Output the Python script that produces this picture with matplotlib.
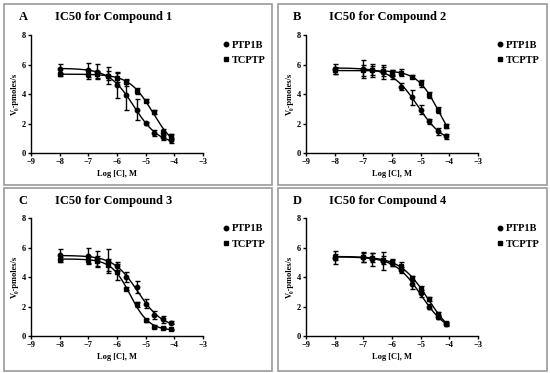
import numpy as np
import matplotlib
matplotlib.use('Agg')
import matplotlib.pyplot as plt
from matplotlib.patches import Rectangle
from matplotlib.lines import Line2D

# log concentration of the inhibitor (M)
conc = [-8, -7, -6.7, -6.3, -6, -5.7, -5.3, -5, -4.7, -4.4, -4.1]
series = ['PTP1B', 'TCPTP']
letters = ['A', 'B', 'C', 'D']
titles = ['IC50 for Compound 1', 'IC50 for Compound 2', 'IC50 for Compound 3', 'IC50 for Compound 4']

# mean V0 values (pmoles/s) and error bars
ptp1b_1 = [5.68, 5.63, 5.52, 5.25, 4.6, 3.94, 2.93, 2.03, 1.35, 1.06, 0.86]
ptp1b_1_err = [0.35, 0.45, 0.5, 0.6, 0.9, 1.0, 0.7, 0.1, 0.2, 0.2, 0.15]
tcptp_1 = [5.34, 5.34, 5.34, 5.25, 5.1, 4.8, 4.23, 3.54, 2.77, 1.42, 1.13]
tcptp_1_err = [0.1, 0.3, 0.25, 0.3, 0.3, 0.25, 0.2, 0.1, 0.15, 0.2, 0.15]

ptp1b_2 = [5.7, 5.7, 5.6, 5.5, 5.3, 4.5, 3.78, 2.93, 2.14, 1.46, 1.13]
ptp1b_2_err = [0.35, 0.6, 0.45, 0.45, 0.3, 0.25, 0.5, 0.3, 0.15, 0.25, 0.15]
tcptp_2 = [5.6, 5.6, 5.6, 5.55, 5.45, 5.45, 5.18, 4.73, 3.94, 2.93, 1.85]
tcptp_2_err = [0.25, 0.35, 0.3, 0.3, 0.2, 0.25, 0.1, 0.25, 0.2, 0.2, 0.15]

ptp1b_3 = [5.52, 5.4, 5.22, 5.07, 4.73, 4.0, 3.31, 2.2, 1.42, 1.13, 0.9]
ptp1b_3_err = [0.35, 0.55, 0.55, 0.8, 0.3, 0.35, 0.4, 0.3, 0.3, 0.25, 0.1]
tcptp_3 = [5.18, 5.18, 5.07, 4.84, 4.32, 3.2, 2.14, 1.08, 0.63, 0.56, 0.45]
tcptp_3_err = [0.15, 0.25, 0.35, 0.4, 0.55, 0.1, 0.15, 0.1, 0.1, 0.05, 0.05]

ptp1b_4 = [5.3, 5.35, 5.2, 5.1, 4.95, 4.45, 3.5, 2.9, 2.0, 1.3, 0.8]
ptp1b_4_err = [0.45, 0.35, 0.45, 0.6, 0.2, 0.2, 0.3, 0.25, 0.2, 0.15, 0.1]
tcptp_4 = [5.35, 5.35, 5.3, 5.15, 5.0, 4.75, 3.9, 3.2, 2.5, 1.5, 0.85]
tcptp_4_err = [0.2, 0.3, 0.3, 0.3, 0.25, 0.25, 0.15, 0.2, 0.15, 0.15, 0.1]

panels = [
    [(ptp1b_1, ptp1b_1_err), (tcptp_1, tcptp_1_err)],
    [(ptp1b_2, ptp1b_2_err), (tcptp_2, tcptp_2_err)],
    [(ptp1b_3, ptp1b_3_err), (tcptp_3, tcptp_3_err)],
    [(ptp1b_4, ptp1b_4_err), (tcptp_4, tcptp_4_err)],
]


# 4-parameter logistic fit: grid over logIC50 and hill, linear solve for bottom/top
def fit_sigmoid(x, y):
    x = np.asarray(x, float)
    y = np.asarray(y, float)
    c = np.arange(-7.5, -3.0, 0.01)[:, None, None]
    h = np.arange(0.3, 4.0, 0.02)[None, :, None]
    s = 1.0 / (1.0 + 10 ** ((x[None, None, :] - c) * h))
    u = 1 - s
    a11 = (u * u).sum(-1)
    a12 = (u * s).sum(-1)
    a22 = (s * s).sum(-1)
    b1 = (u * y).sum(-1)
    b2 = (s * y).sum(-1)
    det = a11 * a22 - a12 ** 2
    det[det == 0] = 1e-12
    bot = (a22 * b1 - a12 * b2) / det
    top = (a11 * b2 - a12 * b1) / det
    pred = bot[..., None] * u + top[..., None] * s
    sse = ((pred - y) ** 2).sum(-1)
    i, j = np.unravel_index(np.argmin(sse), sse.shape)
    cc, hh, bb, tt = c[i, 0, 0], h[0, j, 0], bot[i, j], top[i, j]
    return lambda xx: bb + (tt - bb) / (1 + 10 ** ((xx - cc) * hh))


plt.rcParams['font.family'] = ['Liberation Serif', 'DejaVu Serif']
plt.rcParams['font.weight'] = 'bold'

W, H = 550, 373
fig = plt.figure(figsize=(5.5, 3.73), dpi=100)

# panel boxes (pixels): x0, y0 (top), x1, y1 (bottom)
boxes = [(4, 4, 272, 185), (278, 4, 547, 185), (4, 188, 272, 371), (278, 188, 547, 371)]
# axes rectangles (pixels): left, top, right, bottom
axrects = [(31, 35, 203, 153), (306, 35, 478, 153), (31, 218, 203, 336), (306, 218, 478, 336)]

markers = ['o', 's']
msizes = [3.2, 3.0]
xs = np.linspace(-8, -4.1, 200)

for k in range(4):
    bx0, by0, bx1, by1 = boxes[k]
    fig.patches.append(Rectangle((bx0 / W, 1 - by1 / H), (bx1 - bx0) / W, (by1 - by0) / H,
                                 transform=fig.transFigure, fill=False,
                                 edgecolor='#9a9a9a', linewidth=1.2))
    l, t, r, b = axrects[k]
    ax = fig.add_axes([l / W, 1 - b / H, (r - l) / W, (b - t) / H])
    for m, ms, (vals, errs) in zip(markers, msizes, panels[k]):
        ax.errorbar(conc, vals, yerr=errs, fmt=m, color='black', markersize=ms,
                    elinewidth=1, capsize=1.8, capthick=1, zorder=3)
        f = fit_sigmoid(conc, vals)
        ax.plot(xs, f(xs), color='black', linewidth=1)
    ax.set_xlim(-9, -3)
    ax.set_ylim(0, 8)
    ax.set_xticks([-9, -8, -7, -6, -5, -4, -3])
    ax.set_yticks([0, 2, 4, 6, 8])
    ax.tick_params(labelsize=6, length=2.5, width=1, pad=1)
    for sp in ['top', 'right']:
        ax.spines[sp].set_visible(False)
    for sp in ['left', 'bottom']:
        ax.spines[sp].set_linewidth(1)
    ax.set_xlabel('Log [C], M', fontsize=6, fontweight='bold', labelpad=3)
    ax.set_ylabel('V\u2080-pmoles/s', fontsize=6, fontweight='bold', labelpad=2)
    ax.patch.set_alpha(0)

    # panel letter and title
    fig.text((bx0 + 19) / W, 1 - (by0 + 13) / H, letters[k], fontsize=9, fontweight='bold',
             ha='center', va='center')
    fig.text((bx0 + 110) / W, 1 - (by0 + 13) / H, titles[k], fontsize=9, fontweight='bold',
             ha='center', va='center')

    handles = [Line2D([], [], linestyle='none', marker=m, markersize=ms, color='black')
               for m, ms in zip(markers, msizes)]
    ax.legend(handles, series, loc='upper left', frameon=False,
              bbox_to_anchor=((bx0 + 214) / W, 1 - (by0 + 31) / H), bbox_transform=fig.transFigure,
              prop={'size': 7.5, 'weight': 'bold'}, handlelength=0.5, handletextpad=0.35,
              labelspacing=0.55, borderpad=0)

fig.savefig('out.png', dpi=100)
